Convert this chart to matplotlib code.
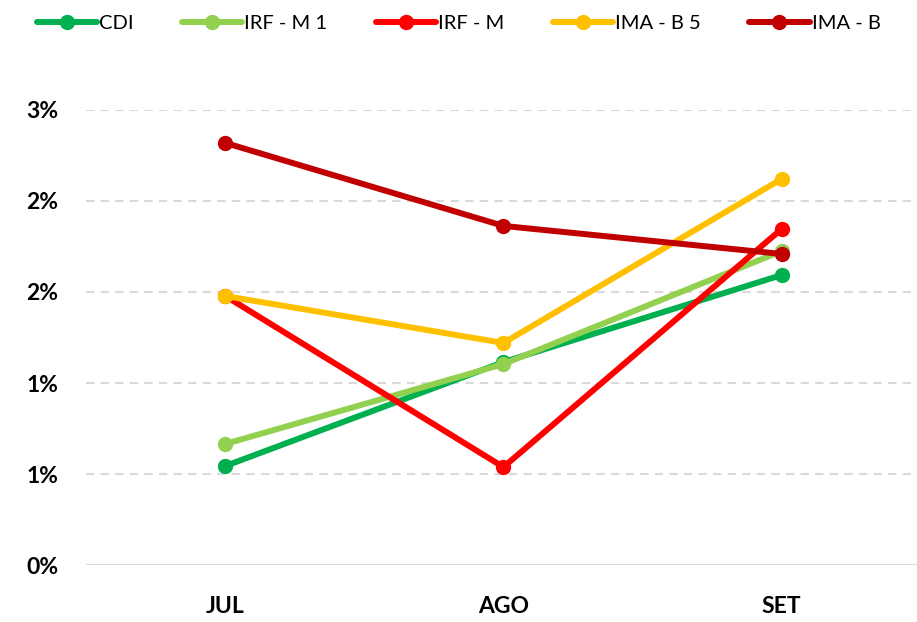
import matplotlib.pyplot as plt
from matplotlib.ticker import FixedLocator

plt.rcParams['font.family'] = ['Lato', 'DejaVu Sans']

months = ['JUL', 'AGO', 'SET']
series_names = ['CDI', 'IRF - M 1', 'IRF - M', 'IMA - B 5', 'IMA - B']
cdi = [0.544, 1.115, 1.593]
irf_m1 = [0.665, 1.104, 1.725]
irf_m = [1.478, 0.538, 1.846]
ima_b5 = [1.478, 1.220, 2.121]
ima_b = [2.319, 1.863, 1.709]
colors = ['#00B050', '#92D050', '#FF0000', '#FFC000', '#C00000']

yticks = [0, 0.5, 1.0, 1.5, 2.0, 2.5]
ytick_labels = ['0%', '1%', '1%', '2%', '2%', '3%']

fig = plt.figure(figsize=(9.17, 6.22), dpi=100)
ax = fig.add_axes([0.094, 0.0916, 0.91, 0.7316])

x = range(len(months))
for name, vals, c in zip(series_names, [cdi, irf_m1, irf_m, ima_b5, ima_b], colors):
    ax.plot(x, vals, color=c, lw=4.3, marker='o', ms=10, label=name,
            solid_capstyle='round', clip_on=False, zorder=3)

ax.set_xlim(-0.5, 2.5)
ax.set_ylim(0, 2.5)
ax.yaxis.set_major_locator(FixedLocator(yticks))
ax.set_yticklabels(ytick_labels, fontsize=16.5, fontweight='bold')
ax.set_xticks(list(x))
ax.set_xticklabels(months, fontsize=16.5, fontweight='bold')
ax.tick_params(length=0)
ax.tick_params(axis='y', pad=20)
ax.tick_params(axis='x', pad=22)
for g in yticks[1:]:
    ax.axhline(g, color='#D9D9D9', lw=1.5, ls=(0, (4, 3)), zorder=1)
ax.axhline(0, color='#D9D9D9', lw=1.5, zorder=1)
for s in ax.spines.values():
    s.set_visible(False)

fig.legend(loc='upper center', bbox_to_anchor=(0.5, 1.005), ncol=5, frameon=False,
           fontsize=14.5, handlelength=3.0, handletextpad=0.1, columnspacing=2.4)

fig.savefig('out.png', dpi=100)
